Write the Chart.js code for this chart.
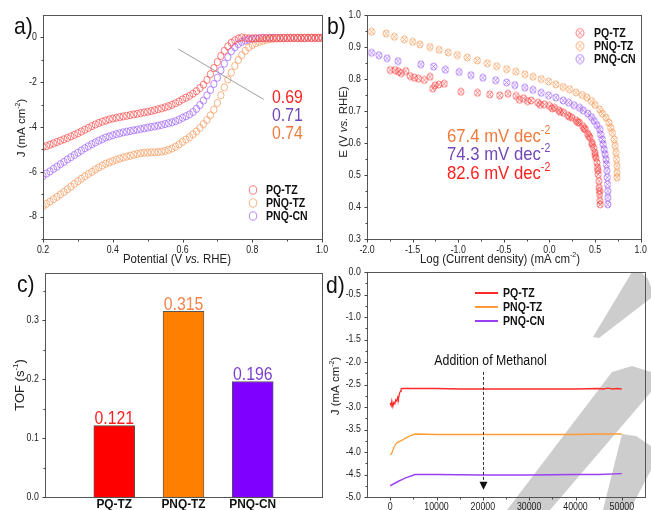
<!DOCTYPE html>
<html>
<head>
<meta charset="utf-8">
<script src="https://cdn.jsdelivr.net/npm/chart.js@4.4.1/dist/chart.umd.min.js"></script>
<style>
html, body { margin: 0; padding: 0; background: #fff; }
#wrap { position: relative; width: 651px; height: 510px; overflow: hidden; }
#wrap canvas { position: absolute; left: 0; top: 0; }
</style>
</head>
<body>
<div id="wrap">
  <canvas id="bg" width="651" height="510"></canvas>
  <canvas id="ca" width="740" height="510"></canvas>
  <canvas id="cb" width="740" height="510"></canvas>
  <canvas id="cc" width="740" height="510"></canvas>
  <canvas id="cd" width="740" height="510"></canvas>
</div>
<script>
// ---------- a) LSV curves ----------
const potential = [0.20,0.21,0.22,0.23,0.24,0.25,0.26,0.27,0.28,0.29,
  0.30,0.31,0.32,0.33,0.34,0.35,0.36,0.37,0.38,0.39,
  0.40,0.41,0.42,0.43,0.44,0.45,0.46,0.47,0.48,0.49,
  0.50,0.51,0.52,0.53,0.54,0.55,0.56,0.57,0.58,0.59,
  0.60,0.61,0.62,0.63,0.64,0.65,0.66,0.67,0.68,0.69,
  0.70,0.71,0.72,0.73,0.74,0.75,0.76,0.77,0.78,0.79,
  0.80,0.81,0.82,0.83,0.84,0.85,0.86,0.87,0.88,0.89,
  0.90,0.91,0.92,0.93,0.94,0.95,0.96,0.97,0.98,0.99,1.00];
const lsvPQTZ = [-4.90,-4.85,-4.79,-4.73,-4.67,-4.61,-4.55,-4.49,-4.42,-4.35,
  -4.28,-4.20,-4.12,-4.04,-3.96,-3.89,-3.82,-3.76,-3.71,-3.66,
  -3.62,-3.59,-3.56,-3.53,-3.50,-3.47,-3.44,-3.41,-3.38,-3.35,
  -3.32,-3.29,-3.25,-3.21,-3.17,-3.12,-3.07,-3.01,-2.94,-2.86,
  -2.77,-2.69,-2.61,-2.51,-2.40,-2.26,-2.11,-1.90,-1.64,-1.37,
  -1.10,-0.83,-0.60,-0.40,-0.24,-0.13,-0.05,0.00,-0.03,-0.04,
  -0.04,-0.04,-0.04,-0.03,-0.03,-0.03,-0.03,-0.03,-0.03,-0.03,
  -0.03,-0.03,-0.03,-0.03,-0.03,-0.03,-0.02,-0.02,-0.02,-0.02,-0.02];
const lsvPNQTZ = [-7.54,-7.43,-7.33,-7.22,-7.12,-7.01,-6.90,-6.78,-6.66,-6.54,
  -6.42,-6.31,-6.20,-6.10,-6.00,-5.90,-5.81,-5.72,-5.64,-5.58,
  -5.52,-5.46,-5.41,-5.36,-5.32,-5.28,-5.24,-5.20,-5.17,-5.15,
  -5.14,-5.13,-5.13,-5.12,-5.10,-5.07,-5.02,-4.96,-4.88,-4.78,
  -4.66,-4.56,-4.45,-4.33,-4.20,-4.04,-3.87,-3.69,-3.48,-3.23,
  -2.93,-2.58,-2.23,-1.88,-1.57,-1.27,-1.01,-0.79,-0.60,-0.45,
  -0.34,-0.26,-0.20,-0.15,-0.11,-0.08,-0.06,-0.05,-0.04,-0.03,
  -0.03,-0.02,-0.02,-0.02,-0.02,-0.02,-0.02,-0.02,-0.02,-0.02,-0.02];
const lsvPNQCN = [-6.19,-6.08,-5.98,-5.87,-5.77,-5.66,-5.56,-5.45,-5.35,-5.25,
  -5.15,-5.05,-4.95,-4.86,-4.77,-4.69,-4.61,-4.54,-4.47,-4.42,
  -4.37,-4.32,-4.28,-4.24,-4.21,-4.18,-4.15,-4.12,-4.09,-4.06,
  -4.03,-4.00,-3.97,-3.94,-3.91,-3.87,-3.83,-3.79,-3.74,-3.67,
  -3.59,-3.52,-3.44,-3.33,-3.19,-3.02,-2.82,-2.59,-2.35,-2.08,
  -1.80,-1.47,-1.17,-0.88,-0.62,-0.44,-0.30,-0.20,-0.14,-0.10,
  -0.07,-0.05,-0.04,-0.03,-0.03,-0.02,-0.02,-0.02,-0.02,-0.02,
  -0.02,-0.02,-0.02,-0.02,-0.02,-0.02,-0.02,-0.02,-0.02,-0.02,-0.02];
const guideX = [0.588, 0.833];
const guideY = [-0.52, -2.77];
const onsetLabels = ['0.69', '0.71', '0.74'];
const aXTicks = [0.2, 0.4, 0.6, 0.8, 1.0];
const aXMinor = [0.3, 0.5, 0.7, 0.9];
const aYTicks = [-8, -6, -4, -2, 0];
const aYMinor = [-9, -7, -5, -3, -1];

// ---------- b) Tafel ----------
const tafelPQTZx = [-1.745,-1.691,-1.655,-1.625,-1.575,-1.527,-1.48,-1.436,-1.371,-1.309,-1.28,-1.255,-1.211,-1.153,
  -0.971,-0.789,-0.655,-0.545,-0.455,-0.364,-0.33,-0.284,-0.24,-0.2,-0.127,-0.10,-0.055,0.0,0.03,0.055,0.102,0.12,
  0.153,0.2,0.22,0.247,0.291,0.31,0.327,0.364,0.38,0.393,0.418,0.43,0.444,0.465,0.47,0.484,0.498,0.50,0.509,0.52,
  0.527,0.53,0.535,0.542,0.545,0.549,0.55,0.553,0.556];
const tafelPQTZy = [0.828,0.828,0.823,0.818,0.825,0.809,0.804,0.801,0.797,0.807,0.770,0.780,0.783,0.785,
  0.760,0.757,0.752,0.749,0.754,0.747,0.735,0.740,0.731,0.733,0.726,0.719,0.721,0.716,0.708,0.710,0.702,0.697,
  0.695,0.687,0.682,0.679,0.671,0.665,0.664,0.653,0.645,0.643,0.629,0.622,0.617,0.601,0.595,0.585,0.570,0.562,0.554,0.539,
  0.523,0.515,0.502,0.481,0.460,0.440,0.450,0.419,0.408];
const tafelPNQTZx = [-1.95,-1.79,-1.70,-1.59,-1.50,-1.42,-1.31,-1.21,-1.11,-1.01,-0.90,-0.79,-0.68,-0.58,-0.47,-0.37,
  -0.27,-0.18,-0.09,-0.01,0.07,0.15,0.22,0.29,0.36,0.41,0.46,0.50,0.55,0.58,0.62,0.65,0.67,0.69,0.71,0.72,
  0.73,0.735,0.74,0.74,0.74];
const tafelPNQTZy = [0.948,0.942,0.932,0.924,0.916,0.908,0.900,0.891,0.883,0.875,0.867,0.858,0.849,0.840,0.831,0.823,
  0.815,0.807,0.800,0.792,0.783,0.775,0.768,0.758,0.750,0.742,0.731,0.719,0.705,0.692,0.679,0.664,0.648,0.632,0.611,0.591,
  0.570,0.549,0.528,0.507,0.492];
const tafelPNQCNx = [-1.95,-1.87,-1.78,-1.66,-1.41,-1.27,-1.14,-0.99,-0.86,-0.73,-0.59,-0.47,-0.38,-0.27,-0.18,-0.09,
  -0.01,0.07,0.15,0.21,0.27,0.33,0.37,0.42,0.46,0.49,0.52,0.55,0.56,0.58,0.59,0.60,0.61,0.62,0.625,0.63,
  0.633,0.636,0.64,0.64,0.64];
const tafelPNQCNy = [0.882,0.874,0.865,0.856,0.846,0.839,0.829,0.822,0.812,0.804,0.796,0.789,0.781,0.773,0.766,0.757,
  0.749,0.742,0.733,0.726,0.718,0.710,0.702,0.692,0.681,0.669,0.656,0.643,0.627,0.611,0.596,0.580,0.565,0.549,0.533,0.513,
  0.492,0.471,0.450,0.429,0.408];
const tafelSlopes = ['67.4', '74.3', '82.6'];
const bXTicks = [-2.0, -1.5, -1.0, -0.5, 0.0, 0.5, 1.0];
const bXMinor = [-1.75, -1.25, -0.75, -0.25, 0.25, 0.75];
const bYTicks = [0.3, 0.4, 0.5, 0.6, 0.7, 0.8, 0.9, 1.0];
const bYMinor = [0.35, 0.45, 0.55, 0.65, 0.75, 0.85, 0.95];

// ---------- c) TOF ----------
const tofCategories = ['PQ-TZ', 'PNQ-TZ', 'PNQ-CN'];
const tofValues = [0.121, 0.315, 0.196];
const cYTicks = [0.0, 0.1, 0.2, 0.3];
const cYMinor = [0.05, 0.15, 0.25, 0.35];

// ---------- d) stability ----------
const timePQTZ = [0,215,358,573,788,1003,1217,1432,1647,1790,2005,2220,2363,2600,5000,10000,15000,20000,25000,30000,35000,40000,45000,46000,47000,48000,49000,50000];
const jPQTZ = [-2.91,-2.97,-2.87,-2.99,-2.90,-2.93,-2.84,-2.87,-2.78,-2.82,-2.70,-2.65,-2.60,-2.59,-2.59,-2.59,-2.60,-2.60,-2.60,-2.60,-2.60,-2.60,-2.59,-2.60,-2.58,-2.60,-2.59,-2.60];
const timePNQTZ = [0,300,700,1100,1500,2500,3500,4500,5400,10000,20000,30000,40000,45000,50000];
const jPNQTZ = [-4.06,-4.04,-3.93,-3.84,-3.79,-3.74,-3.68,-3.63,-3.60,-3.61,-3.61,-3.61,-3.61,-3.60,-3.60];
const timePNQCN = [0,1790,3222,5370,10000,20000,30000,40000,45000,50000];
const jPNQCN = [-4.75,-4.65,-4.58,-4.50,-4.50,-4.51,-4.51,-4.50,-4.50,-4.48];
const methanolTime = 20000;
const dXTicks = [0, 10000, 20000, 30000, 40000, 50000];
const dXMinor = [5000, 15000, 25000, 35000, 45000];
const dYTicks = [-5.0, -4.5, -4.0, -3.5, -3.0, -2.5, -2.0, -1.5, -1.0, -0.5, 0.0];
const dYMinor = [-4.75, -4.25, -3.75, -3.25, -2.75, -2.25, -1.75, -1.25, -0.75, -0.25];

const seriesNames = ['PQ-TZ', 'PNQ-TZ', 'PNQ-CN'];

// ---------- shared setup ----------
// the figure is slightly squeezed sideways, so charts are laid out wider and drawn with a 0.88 x-scale
const W = 651, H = 510, SX = 0.88, CW = 740;
const FONT = '"Liberation Sans", Arial, Helvetica, sans-serif';
Chart.defaults.font.family = FONT;
Chart.defaults.color = '#222';
Chart.defaults.animation = false;
Chart.defaults.events = [];
Chart.defaults.plugins.legend.display = false;
Chart.defaults.plugins.tooltip.enabled = false;

function frame(area, yW, xH) {
  return { padding: { left: area[0] / SX - yW, top: area[1], right: CW - area[2] / SX, bottom: H - area[3] - xH } };
}

function axis(pos, min, max, ticks, fmt, size, pad) {
  return {
    type: 'linear', position: pos, min: min, max: max,
    afterBuildTicks: s => { s.ticks = ticks.map(v => ({ value: v })); },
    afterFit: s => { if (pos === 'left') s.width = size; else s.height = size; },
    ticks: { callback: fmt, autoSkip: false, maxRotation: 0, font: { size: 10 }, color: '#222', padding: pad },
    grid: { display: false, drawTicks: false },
    border: { display: false }
  };
}

// text with italic / superscript parts; x,y is the visual centre line in page pixels
function rich(ctx, parts, x, y, size, color, align, rot, weight) {
  ctx.save();
  if (rot) {
    ctx.setTransform(1, 0, 0, 1, 0, 0);
    ctx.translate(x, y);
    ctx.rotate(rot);
  } else {
    ctx.setTransform(SX, 0, 0, 1, 0, 0);
    ctx.translate(x / SX, y);
  }
  ctx.fillStyle = color;
  ctx.textBaseline = 'alphabetic';
  const f = p => (p[1] === 'i' ? 'italic ' : '') + (weight || 'normal') + ' ' +
    (p[1] === 'sup' ? Math.round(size * 0.65) : size) + 'px ' + FONT;
  let w = 0;
  parts.forEach(p => { ctx.font = f(p); w += ctx.measureText(p[0]).width; });
  let cx = align === 'center' ? -w / 2 : align === 'right' ? -w : 0;
  const base = size * 0.36;
  parts.forEach(p => {
    ctx.font = f(p);
    ctx.fillText(p[0], cx, p[1] === 'sup' ? base - size * 0.42 : base);
    cx += ctx.measureText(p[0]).width;
  });
  ctx.restore();
}

function decor(opt) {
  return {
    id: 'decor',
    beforeDraw(chart) { chart.ctx.setTransform(SX, 0, 0, 1, 0, 0); },
    afterDraw(chart) {
      const ctx = chart.ctx, a = chart.chartArea;
      ctx.save();
      ctx.setTransform(1, 0, 0, 1, 0, 0);
      const L = Math.round(a.left * SX) + 0.5, R = Math.round(a.right * SX) + 0.5;
      const T = Math.round(a.top) + 0.5, B = Math.round(a.bottom) + 0.5;
      ctx.strokeStyle = '#555';
      ctx.lineWidth = 1;
      ctx.strokeRect(L, T, R - L, B - T);
      ctx.strokeStyle = '#444';
      ctx.beginPath();
      const tx = (vals, len) => vals.forEach(v => {
        const p = Math.round(chart.scales.x.getPixelForValue(v) * SX) + 0.5;
        ctx.moveTo(p, B); ctx.lineTo(p, B + len);
      });
      const ty = (vals, len) => vals.forEach(v => {
        const p = Math.round(chart.scales.y.getPixelForValue(v)) + 0.5;
        ctx.moveTo(L, p); ctx.lineTo(L - len, p);
      });
      tx(opt.majorX || [], 3); tx(opt.minorX || [], 2);
      ty(opt.majorY || [], 3); ty(opt.minorY || [], 2);
      ctx.stroke();
      if (opt.draw) opt.draw(chart, ctx);
      ctx.restore();
    }
  };
}

const UP = -Math.PI / 2;
const cm2 = [['J (mA cm', ''], ['-2', 'sup'], [')', '']];

// ---------- background watermark ----------
(function () {
  const g = document.getElementById('bg').getContext('2d');
  g.fillStyle = '#fff';
  g.fillRect(0, 0, W, H);
  g.fillStyle = '#cdcdcd';
  [
    [[632,272],[641,272],[648,279],[651,287],[651,298],[599,338],[593,337]],
    [[612,372],[632,366],[651,372],[651,392],[550,510],[507,510]],
    [[622,434],[636,436],[651,446],[651,470],[630,510],[603,510]]
  ].forEach(poly => {
    g.beginPath();
    poly.forEach((p, i) => i ? g.lineTo(p[0], p[1]) : g.moveTo(p[0], p[1]));
    g.closePath();
    g.fill();
  });
})();

function ring(ctx, x, y, r, color) {
  ctx.save();
  ctx.setTransform(SX, 0, 0, 1, 0, 0);
  ctx.strokeStyle = color; ctx.lineWidth = 1;
  ctx.beginPath(); ctx.arc(x / SX, y, r, 0, Math.PI * 2); ctx.stroke();
  ctx.restore();
}

// ---------- panel a ----------
const aCol = ['rgba(255,70,70,0.75)', 'rgba(247,155,95,0.8)', 'rgba(160,100,248,0.8)'];
const aText = ['#ff1f1f', '#7446b8', '#f07a3c'];
new Chart(document.getElementById('ca'), {
  type: 'scatter',
  data: {
    datasets: [
      { data: potential.map((v, i) => ({ x: v, y: lsvPQTZ[i] })), borderColor: aCol[0] },
      { data: potential.map((v, i) => ({ x: v, y: lsvPNQTZ[i] })), borderColor: aCol[1] },
      { data: potential.map((v, i) => ({ x: v, y: lsvPNQCN[i] })), borderColor: aCol[2] },
      { data: guideX.map((v, i) => ({ x: v, y: guideY[i] })), showLine: true, borderColor: '#999',
        borderWidth: 1, pointRadius: 0 }
    ].map(d => Object.assign({ backgroundColor: 'transparent', pointRadius: 3.6, pointBorderWidth: 1 }, d))
  },
  options: {
    responsive: false,
    layout: frame([43, 15, 322, 239], 30, 20),
    scales: {
      x: axis('bottom', 0.2, 1.0, aXTicks, v => v.toFixed(1), 20, 5),
      y: axis('left', -9, 1, aYTicks, v => String(v), 30, 7)
    }
  },
  plugins: [decor({
    majorX: aXTicks, minorX: aXMinor, majorY: aYTicks, minorY: aYMinor,
    draw(chart, ctx) {
      rich(ctx, [['a)', '']], 14, 25, 24, '#111', 'left');
      rich(ctx, [['Potential (V ', ''], ['vs.', 'i'], [' RHE)', '']], 177, 258, 13, '#222', 'center');
      rich(ctx, cm2, 21, 128, 11.5, '#222', 'center', UP);
      onsetLabels.forEach((t, i) => rich(ctx, [[t, '']], 272, 97 + i * 18, 18, aText[i], 'left'));
      seriesNames.forEach((n, i) => {
        const y = 190 + i * 13;
        ring(ctx, 253, y, 4.2, aCol[i]);
        rich(ctx, [[n, '']], 266, y, 12, '#111', 'left', 0, 'bold');
      });
    }
  })]
});

// ---------- panel b ----------
const bCol = ['rgba(250,60,60,0.7)', 'rgba(245,150,80,0.75)', 'rgba(155,90,245,0.75)'];
const bText = ['#f07a3c', '#7446b8', '#ff1f1f'];
function crossCircle(color, r) {
  const s = Math.ceil(r * 2 + 2), c = document.createElement('canvas');
  c.width = s; c.height = s;
  const g = c.getContext('2d'), m = s / 2, d = r * 0.7;
  g.strokeStyle = color; g.lineWidth = 1;
  g.beginPath(); g.arc(m, m, r, 0, Math.PI * 2); g.stroke();
  g.beginPath(); g.moveTo(m - d, m - d); g.lineTo(m + d, m + d); g.moveTo(m + d, m - d); g.lineTo(m - d, m + d); g.stroke();
  return c;
}
new Chart(document.getElementById('cb'), {
  type: 'scatter',
  data: {
    datasets: [
      { data: tafelPQTZx.map((v, i) => ({ x: v, y: tafelPQTZy[i] })), pointStyle: crossCircle(bCol[0], 3.5) },
      { data: tafelPNQTZx.map((v, i) => ({ x: v, y: tafelPNQTZy[i] })), pointStyle: crossCircle(bCol[1], 3.5) },
      { data: tafelPNQCNx.map((v, i) => ({ x: v, y: tafelPNQCNy[i] })), pointStyle: crossCircle(bCol[2], 3.5) }
    ].map(d => Object.assign({ pointRadius: 4 }, d))
  },
  options: {
    responsive: false,
    layout: frame([367, 15, 642, 239], 30, 20),
    scales: {
      x: axis('bottom', -2, 1, bXTicks, v => v.toFixed(1), 20, 5),
      y: axis('left', 0.3, 1.0, bYTicks, v => v.toFixed(1), 30, 7)
    }
  },
  plugins: [decor({
    majorX: bXTicks, minorX: bXMinor, majorY: bYTicks, minorY: bYMinor,
    draw(chart, ctx) {
      rich(ctx, [['b)', '']], 327, 25, 24, '#111', 'left');
      rich(ctx, [['Log (Current density) (mA cm', ''], ['-2', 'sup'], [')', '']], 500, 258, 13, '#222', 'center');
      rich(ctx, [['E (V ', ''], ['vs.', 'i'], [' RHE)', '']], 343, 122, 11.5, '#222', 'center', UP);
      tafelSlopes.forEach((t, i) => rich(ctx, [[t + ' mV dec', ''], ['-2', 'sup']], 447, 135 + i * 18.5, 19, bText[i], 'left'));
      seriesNames.forEach((n, i) => {
        const y = 33 + i * 13, img = crossCircle(bCol[i], 4.5);
        ctx.drawImage(img, 580 - img.width * SX / 2, y - img.height / 2, img.width * SX, img.height);
        rich(ctx, [[n, '']], 594, y, 12, '#111', 'left', 0, 'bold');
      });
    }
  })]
});

// ---------- panel c ----------
const cFill = ['#ff0000', '#ff8000', '#8000ff'];
const cText = ['#ff1f1f', '#f5834a', '#7c3fd0'];
new Chart(document.getElementById('cc'), {
  type: 'bar',
  data: {
    labels: [''].concat(tofCategories, ['']),
    datasets: [{
      data: [null].concat(tofValues, [null]),
      backgroundColor: [null].concat(cFill, [null]),
      borderColor: '#555', borderWidth: 1, barThickness: 41 / SX
    }]
  },
  options: {
    responsive: false,
    layout: frame([45, 273, 322, 497], 30, 20),
    scales: {
      x: {
        type: 'category', offset: false,
        afterFit: s => { s.height = 20; },
        ticks: { autoSkip: false, maxRotation: 0, font: { size: 13.5, weight: 'bold' }, color: '#111', padding: -1 },
        grid: { display: false, drawTicks: false }, border: { display: false }
      },
      y: axis('left', 0, 0.38, cYTicks, v => v.toFixed(1), 30, 7)
    }
  },
  plugins: [decor({
    majorY: cYTicks, minorY: cYMinor,
    draw(chart, ctx) {
      rich(ctx, [['c)', '']], 17, 283, 24, '#111', 'left');
      rich(ctx, [['TOF (s', ''], ['-1', 'sup'], [')', '']], 19, 385, 13, '#222', 'center', UP);
      const meta = chart.getDatasetMeta(0);
      tofValues.forEach((v, i) => {
        const el = meta.data[i + 1];
        rich(ctx, [[v.toFixed(3), '']], el.x * SX, el.y - 8, 18, cText[i], 'center');
      });
    }
  })]
});

// ---------- panel d ----------
const dCol = ['#ff2a2a', '#ff9a35', '#9a40f2'];
new Chart(document.getElementById('cd'), {
  type: 'line',
  data: {
    datasets: [
      { data: timePQTZ.map((t, i) => ({ x: t, y: jPQTZ[i] })), borderColor: dCol[0] },
      { data: timePNQTZ.map((t, i) => ({ x: t, y: jPNQTZ[i] })), borderColor: dCol[1] },
      { data: timePNQCN.map((t, i) => ({ x: t, y: jPNQCN[i] })), borderColor: dCol[2] }
    ].map(d => Object.assign({ borderWidth: 1.4, pointRadius: 0, tension: 0, fill: false }, d))
  },
  options: {
    responsive: false,
    layout: frame([367, 272, 645, 497], 30, 20),
    scales: {
      x: axis('bottom', -5000, 55000, dXTicks, v => String(v), 20, 4),
      y: axis('left', -5, 0, dYTicks, v => v.toFixed(1), 30, 7)
    }
  },
  plugins: [decor({
    majorX: dXTicks, minorX: dXMinor, majorY: dYTicks, minorY: dYMinor,
    draw(chart, ctx) {
      rich(ctx, [['d)', '']], 326, 284, 24, '#111', 'left');
      rich(ctx, cm2, 335, 386, 11.5, '#222', 'center', UP);
      seriesNames.forEach((n, i) => {
        const y = 293 + i * 14;
        ctx.strokeStyle = dCol[i]; ctx.lineWidth = 2;
        ctx.beginPath(); ctx.moveTo(475, y); ctx.lineTo(498, y); ctx.stroke();
        rich(ctx, [[n, '']], 503, y, 12, '#111', 'left', 0, 'bold');
      });
      const sx = chart.scales.x, sy = chart.scales.y;
      const ax = Math.round(sx.getPixelForValue(methanolTime) * SX) + 0.5;
      const y0 = sy.getPixelForValue(-2.22), y1 = sy.getPixelForValue(-4.84);
      rich(ctx, [['Addition of Methanol', '']], ax + 7, 360, 14, '#111', 'center');
      ctx.strokeStyle = '#333'; ctx.lineWidth = 1; ctx.setLineDash([3, 2]);
      ctx.beginPath(); ctx.moveTo(ax, y0); ctx.lineTo(ax, y1 - 7); ctx.stroke();
      ctx.setLineDash([]);
      ctx.fillStyle = '#111';
      ctx.beginPath(); ctx.moveTo(ax - 4, y1 - 8); ctx.lineTo(ax + 4, y1 - 8); ctx.lineTo(ax, y1); ctx.closePath(); ctx.fill();
    }
  })]
});
</script>
</body>
</html>
